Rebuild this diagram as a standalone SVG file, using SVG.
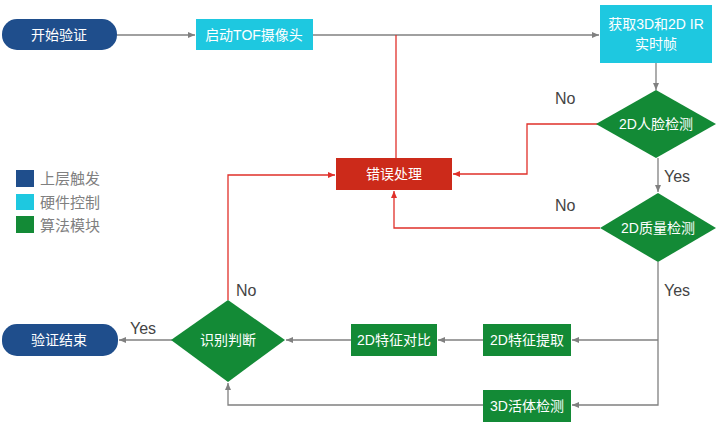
<svg xmlns="http://www.w3.org/2000/svg" width="726" height="432" viewBox="0 0 726 432">
<style>
text{font-family:"Liberation Sans","Noto Sans CJK SC",sans-serif}
.t{fill:#fff;font-size:14px;text-anchor:middle;dominant-baseline:central}
.l{fill:#444;font-size:16px}
.g{fill:none;stroke:#808080;stroke-width:1.3}
.r{fill:none;stroke:#e0302a;stroke-width:1.3}
.lg{fill:#808080;font-size:15px;dominant-baseline:central}
</style>
<defs>
<marker id="ag" markerWidth="8" markerHeight="8" refX="7" refY="4" orient="auto" markerUnits="userSpaceOnUse"><path d="M0,1 L7,4 L0,7z" fill="#808080"/></marker>
<marker id="ar" markerWidth="8" markerHeight="8" refX="7" refY="4" orient="auto" markerUnits="userSpaceOnUse"><path d="M0,1 L7,4 L0,7z" fill="#e0302a"/></marker>
</defs>
<rect width="726" height="432" fill="#fff"/>
<g id="connectors">
<path class="g" d="M117,35 H195" marker-end="url(#ag)"/>
<path class="g" d="M313,35 H599" marker-end="url(#ag)"/>
<path class="g" d="M656,63 V90" marker-end="url(#ag)"/>
<path class="g" d="M658,158 V192" marker-end="url(#ag)"/>
<path class="g" d="M658,262 V405 H572" marker-end="url(#ag)"/>
<path class="g" d="M658,340 H572" marker-end="url(#ag)"/>
<path class="g" d="M483,340 H438" marker-end="url(#ag)"/>
<path class="g" d="M351,340 H286" marker-end="url(#ag)"/>
<path class="g" d="M172,340 H119" marker-end="url(#ag)"/>
<path class="g" d="M483,405 H228 V383" marker-end="url(#ag)"/>
<path class="r" d="M598,124 H527 V174 H453" marker-end="url(#ar)"/>
<path class="r" d="M600,228 H394 V191" marker-end="url(#ar)"/>
<path class="r" d="M396,158 V35"/>
<path class="r" d="M228,300 V175 H335" marker-end="url(#ar)"/>
<text class="l" x="555" y="104">No</text>
<text class="l" x="555" y="211">No</text>
<text class="l" x="664" y="182">Yes</text>
<text class="l" x="664" y="296">Yes</text>
<text class="l" x="236" y="296">No</text>
<text class="l" x="130" y="334">Yes</text>
</g>
<g id="start"><rect x="2" y="19" width="115" height="31" rx="15" fill="#1f4e8c"/><text class="t" x="59" y="35">开始验证</text></g>
<g id="tof"><rect x="196" y="19" width="117" height="31" fill="#1ec8e0"/><text class="t" x="254" y="35">启动TOF摄像头</text></g>
<g id="frame"><rect x="600" y="5" width="112" height="58" fill="#1ec8e0"/><text class="t" x="656" y="24">获取3D和2D IR</text><text class="t" x="656" y="44">实时帧</text></g>
<g id="face"><path d="M656,90 L716,124 L656,158 L596,124z" fill="#138a36"/><text class="t" x="656" y="124">2D人脸检测</text></g>
<g id="quality"><path d="M658,193 L716,228 L658,262 L600,228z" fill="#138a36"/><text class="t" x="658" y="228">2D质量检测</text></g>
<g id="error"><rect x="336" y="158" width="116" height="32" fill="#cc2a1a"/><text class="t" x="394" y="174">错误处理</text></g>
<g id="extract"><rect x="483" y="324" width="88" height="32" fill="#138a36"/><text class="t" x="527" y="340">2D特征提取</text></g>
<g id="compare"><rect x="351" y="324" width="86" height="32" fill="#138a36"/><text class="t" x="394" y="340">2D特征对比</text></g>
<g id="live"><rect x="483" y="390" width="88" height="32" fill="#138a36"/><text class="t" x="527" y="406">3D活体检测</text></g>
<g id="judge"><path d="M228,300 L285,340 L228,382 L171,340z" fill="#138a36"/><text class="t" x="228" y="340">识别判断</text></g>
<g id="end"><rect x="2" y="324" width="116" height="32" rx="15" fill="#1f4e8c"/><text class="t" x="59" y="340">验证结束</text></g>
<g id="legend">
<rect x="16" y="170" width="18" height="17" fill="#1f4e8c"/><text class="lg" x="40" y="178">上层触发</text>
<rect x="16" y="194" width="18" height="16" fill="#1ec8e0"/><text class="lg" x="40" y="202">硬件控制</text>
<rect x="16" y="216" width="18" height="17" fill="#138a36"/><text class="lg" x="40" y="225">算法模块</text>
</g>
</svg>
